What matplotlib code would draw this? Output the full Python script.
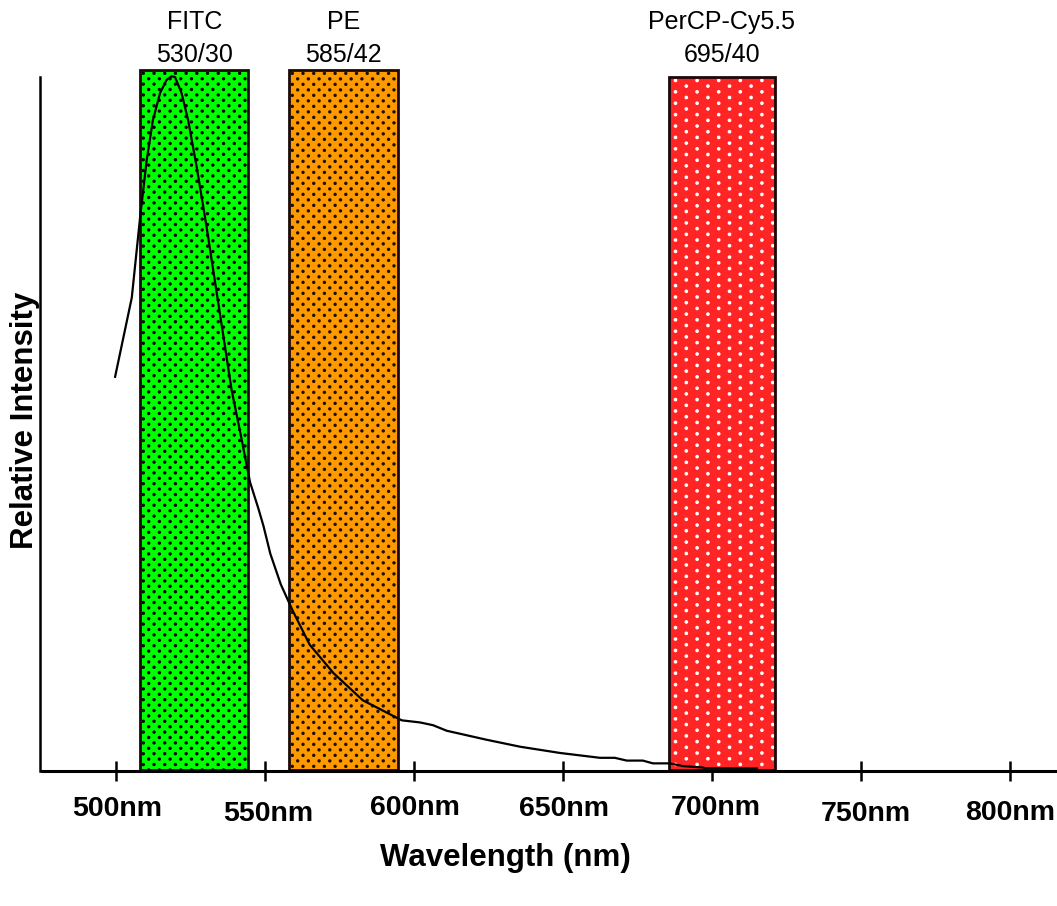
import matplotlib
matplotlib.use("Agg")
import numpy as np
import matplotlib.pyplot as plt
from matplotlib.patches import Rectangle
from matplotlib.transforms import offset_copy

# ---------------- data ----------------
emission_nm = [499.7, 505.3, 508.1, 510.3, 512.4, 514.8, 517.0, 518.7, 519.8,
               522.0, 524.2, 527.1, 530.4, 533.8, 536.6, 538.8, 541.6, 545.0,
               547.8, 549.5, 551.8, 555.3, 559.3, 565.0, 573.0, 582.8, 595.9,
               602.0, 606.4, 611.0, 624.4, 635.6, 649.0, 662.4, 667.4, 671.4,
               676.8, 680.2, 685.9, 690.3, 697.0, 697.7, 715.1]
emission_int = [56.8, 68.2, 79.8, 88.0, 93.8, 97.7, 99.6, 100.1, 100.0,
                97.7, 93.8, 87.0, 78.4, 68.9, 61.1, 54.9, 49.0, 41.6,
                37.8, 35.3, 31.3, 26.9, 23.1, 18.2, 14.1, 10.2, 7.3,
                7.0, 6.6, 5.8, 4.5, 3.5, 2.6, 1.9, 1.9, 1.5,
                1.5, 1.1, 1.1, 0.7, 0.5, 0.4, 0.35]

filter_names = ["FITC", "PE", "PerCP-Cy5.5"]
filter_bands = ["530/30", "585/42", "695/40"]
filter_lo = [508.1, 558.1, 685.6]
filter_hi = [544.4, 594.6, 721.1]
filter_top = [101.0, 101.0, 100.0]
filter_colors = ["#00FF00", "#FF9900", "#FF2525"]
filter_dot_colors = ["#000000", "#1e1000", "#FFFFFF"]

tick_values = [500, 550, 600, 650, 700, 750, 800]
tick_labels = ["500nm", "550nm", "600nm", "650nm", "700nm", "750nm", "800nm"]

x_label = "Wavelength (nm)"
y_label = "Relative Intensity"

# ---------------- layout / style ----------------
W, H = 1057, 906
PX_PER_NM = 2.98
PX_PER_UNIT = 6.94
# dot-pattern spacing per filter, in pixels (dx, dy), staggered lattice
dot_dx = [5.35, 5.35, 10.8]
dot_dy = [5.4, 5.5, 5.7]
dot_size = [6.0, 6.0, 7.0]
# pixel offsets of the tick labels (dx, dy) relative to tick position
tick_label_dx = [1, 3, 1, 1, 4, 5, 0]
tick_label_dy = [-38, -43, -37, -38, -37, -43, -42]

fig = plt.figure(figsize=(W / 100, H / 100), dpi=100)
ax = fig.add_axes([40 / W, (H - 771) / H, 1 - 40 / W, (771 - 60) / H])
ax.set_xlim(474.5, 815.8)
ax.set_ylim(0, 102.45)

for k, (lo, hi, top, fc, dc) in enumerate(zip(filter_lo, filter_hi, filter_top,
                                               filter_colors, filter_dot_colors)):
    base = Rectangle((lo, 0.15), hi - lo, top - 0.15, facecolor=fc,
                     edgecolor="none", linewidth=0, zorder=2)
    ax.add_patch(base)
    # dotted screen pattern
    dxn = dot_dx[k] / PX_PER_NM
    dyn = dot_dy[k] / PX_PER_UNIT
    xs = np.arange(lo + dxn * 0.6, hi, dxn)
    ys = np.arange(top - dyn * 0.6, 0.15, -dyn)
    XX, YY = np.meshgrid(np.arange(len(xs)), np.arange(len(ys)))
    mask = (XX + YY) % 2 == 0
    sc = ax.scatter(xs[XX[mask]], ys[YY[mask]], s=dot_size[k], color=dc,
                    edgecolors="none", zorder=2.5)
    sc.set_clip_path(base)
    ax.add_patch(Rectangle((lo, 0.15), hi - lo, top - 0.15, facecolor="none",
                           edgecolor="#1a0a0a", linewidth=2.0, zorder=3))

ax.plot(emission_nm, emission_int, color="black", linewidth=1.6, zorder=4,
        solid_joinstyle="round")

# filter labels
label_font = dict(family=["Liberation Sans", "DejaVu Sans"], fontsize=18,
                  color="black", ha="center", va="center")
for name, band, lo, hi in zip(filter_names, filter_bands, filter_lo, filter_hi):
    xc = (lo + hi) / 2
    ax.text(xc, 107.9, name, clip_on=False, **label_font)
    ax.text(xc, 103.1, band, clip_on=False, **label_font)

# spines
for s in ["top", "right"]:
    ax.spines[s].set_visible(False)
ax.spines["left"].set_linewidth(1.8)
ax.spines["left"].set_bounds(0, 100)
ax.spines["bottom"].set_linewidth(2.2)
ax.spines["bottom"].set_bounds(475.2, 815.8)
ax.spines["bottom"].set_zorder(5)

ax.set_yticks([])
ax.set_xticks(tick_values)
ax.set_xticklabels([])
ax.tick_params(axis="x", direction="inout", length=14, width=1.8, color="black")

for v, lab, dx, dy in zip(tick_values, tick_labels, tick_label_dx, tick_label_dy):
    tr = offset_copy(ax.get_xaxis_transform(), fig=fig, x=dx, y=dy, units="dots")
    ax.text(v, 0, lab, transform=tr, ha="center", va="center",
            family=["Liberation Sans", "DejaVu Sans"],
            fontweight="bold", fontsize=20.5, clip_on=False)

fig.text(505 / W, 1 - 858 / H, x_label, ha="center", va="center",
         family=["Liberation Sans", "DejaVu Sans"], fontweight="bold", fontsize=22.5)
fig.text(25 / W, 1 - 420 / H, y_label, ha="center", va="center", rotation=90,
         family=["Liberation Sans", "DejaVu Sans"], fontweight="bold", fontsize=22.5)

fig.savefig("out.png", dpi=100)
